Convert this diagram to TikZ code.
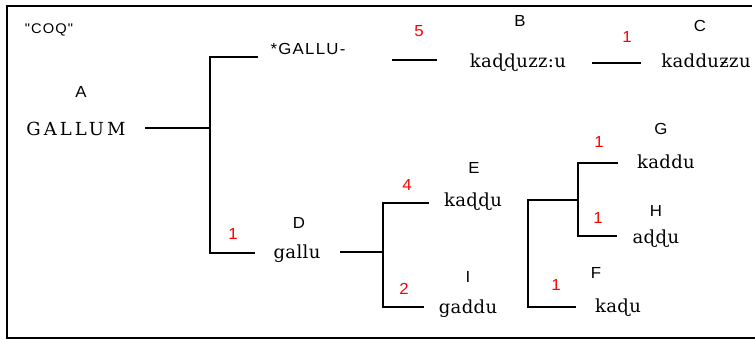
\documentclass[tikz,border=0pt]{standalone}
\usepackage{fontspec}
\usepackage{tikz}
\usetikzlibrary{positioning,calc}
\usepackage{xcolor}

\newfontfamily\labfont[FakeStretch=1.05,LetterSpace=8]{Liberation Sans}
\newfontfamily\wordfont[LetterSpace=2]{DejaVu Serif}

\begin{document}
\begin{tikzpicture}[x=1pt, y=-1pt, line width=1.1pt]
    % Define styles for the labels
    \tikzstyle{tag} = [anchor=base, inner sep=0pt, font=\labfont\fontsize{16}{18}\selectfont]
    \tikzstyle{small tag} = [tag, font=\labfont\fontsize{14}{16}\selectfont]
    \tikzstyle{num} = [tag, text=red, font=\labfont\fontsize{16}{18}\selectfont]
    \tikzstyle{word} = [anchor=base, inner sep=0pt, font=\wordfont\fontsize{18}{21}\selectfont]

    \useasboundingbox (0,0) rectangle (755,340);

    % Frame
    \draw[line width=2.4pt] (752,6) -- (7,6) -- (7,338) -- (755,338);

    % Labels and forms
    \node[small tag] (coq) at (49,34) {"COQ"};
    \node[tag] (labA) at (81,97) {A};
    \node[word, font=\wordfont\fontsize{18}{21}\selectfont\addfontfeature{LetterSpace=17}] (gallum) at (76,135) {GALLUM};
    \node[tag] (gallupre) at (308,54) {*GALLU-};

    \node[num] (n5) at (419,36) {5};
    \node[tag] (labB) at (520,27) {B};
    \node[word] (wB) at (518,67) {kaɖɖuzz:u};
    \node[num] (n1c) at (627,42) {1};
    \node[tag] (labC) at (700,31) {C};
    \node[word] (wC) at (706,67) {kadduƶzu};

    \node[num] (n1d) at (233,239) {1};
    \node[tag] (labD) at (299,228) {D};
    \node[word] (wD) at (297,258) {gallu};

    \node[num] (n4) at (407,190) {4};
    \node[tag] (labE) at (474,173) {E};
    \node[word] (wE) at (473,206) {kaɖɖu};
    \node[num] (n2) at (404,294) {2};
    \node[tag] (labI) at (468,282) {I};
    \node[word] (wI) at (468,313) {gaddu};

    \node[num] (n1g) at (599,147) {1};
    \node[tag] (labG) at (661,134) {G};
    \node[word] (wG) at (666,168) {kaddu};
    \node[num] (n1h) at (598,223) {1};
    \node[tag] (labH) at (656,216) {H};
    \node[word] (wH) at (656,243) {aɖɖu};
    \node[num] (n1f) at (556,290) {1};
    \node[tag] (labF) at (596,278) {F};
    \node[word] (wF) at (618,312) {kaɖu};

    % Branch ends and joints
    \coordinate (A0) at (145,128);
    \coordinate (A1) at (210,128);
    \coordinate (pre0) at (258,57);
    \coordinate (D0) at (255,253);
    \coordinate (B0) at (392,60);
    \coordinate (B1) at (437,60);
    \coordinate (C0) at (592,63);
    \coordinate (C1) at (641,63);
    \coordinate (D1) at (340,252);
    \coordinate (D2) at (383,252);
    \coordinate (E0) at (429,203);
    \coordinate (I0) at (424,307);
    \coordinate (GH) at (578,200);
    \coordinate (F1) at (528,307);
    \coordinate (F0) at (576,307);
    \coordinate (G0) at (618,163);
    \coordinate (H0) at (617,236);

    % Tree
    \draw (A0) -- (A1);
    \draw (pre0) -| (A1) |- (D0);
    \draw (B0) -- (B1);
    \draw (C0) -- (C1);
    \draw (D1) -- (D2);
    \draw (E0) -| (D2) |- (I0);
    \draw (GH) -| (F1) -- (F0);
    \draw (G0) -| (GH) |- (H0);
\end{tikzpicture}
\end{document}
